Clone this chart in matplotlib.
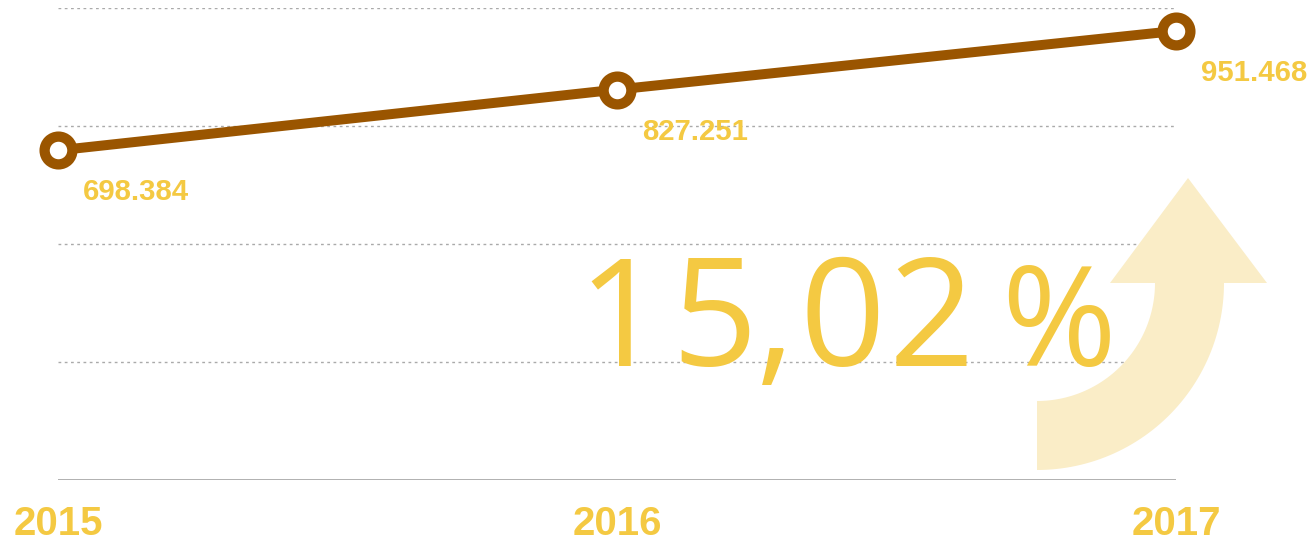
import matplotlib
matplotlib.use("Agg")
import matplotlib.pyplot as plt
from matplotlib.path import Path
from matplotlib.patches import PathPatch
import numpy as np

years = [2015, 2016, 2017]
values = [698.384, 827.251, 951.468]
value_labels = ["698.384", "827.251", "951.468"]
year_labels = ["2015", "2016", "2017"]
growth_label = "15,02 %"
grid_levels = [250, 500, 750, 1000]

YELLOW = "#F4C942"
BROWN = "#9A5500"
ARROW = "#FAEDC7"
GRID = "#AAAAAA"

W, H = 1309, 543
fig = plt.figure(figsize=(W / 100, H / 100), dpi=100)
fig.patch.set_facecolor("white")

# main axes in pixel placement
left, right, bottom_px, top_px = 58, 1176, 480, 8
ax = fig.add_axes([left / W, (H - bottom_px) / H, (right - left) / W, (bottom_px - top_px) / H])
ax.set_xlim(2015, 2017)
ax.set_ylim(0, 1000)
ax.patch.set_visible(False)
for s in ax.spines.values():
    s.set_visible(False)
ax.set_xticks([])
ax.set_yticks([])

for g in grid_levels:
    ax.axhline(g, color=GRID, lw=1.0, ls=(0, (2, 2.5)), zorder=1)
ax.axhline(0, color=GRID, lw=1.3, zorder=1)

ax.plot(years, values, color=BROWN, lw=7.2, zorder=3, solid_capstyle="butt", clip_on=False)
ax.plot(years, values, ls="none", marker="o", ms=20, mew=7.4, mec=BROWN, mfc="white",
        zorder=4, clip_on=False)

for x, v, lab in zip(years, values, value_labels):
    ax.annotate(lab, (x, v), xytext=(25, -42), textcoords="offset pixels",
                ha="left", va="center", fontsize=21.2, fontweight="bold",
                family="Liberation Sans", color=YELLOW, zorder=5, annotation_clip=False)

for x, lab in zip(years, year_labels):
    ax.annotate(lab, (x, 0), xytext=(0, -44), textcoords="offset pixels",
                ha="center", va="center", fontsize=29, fontweight="bold",
                family="Liberation Sans", color=YELLOW, annotation_clip=False)

# overlay in pixel coordinates for the decorative arrow and big figure
ov = fig.add_axes([0, 0, 1, 1], zorder=3)
ov.set_xlim(0, W)
ov.set_ylim(H, 0)
ov.axis("off")
ov.patch.set_visible(False)

cx, cy, R, r = 1037, 283, 187, 118
t = np.linspace(0, np.pi / 2, 60)
outer = np.column_stack([cx + R * np.sin(t), cy + R * np.cos(t)])
inner = np.column_stack([cx + r * np.sin(t[::-1]), cy + r * np.cos(t[::-1])])
head = np.array([[1267, 283], [1188, 178], [1110, 283]])
verts = np.vstack([outer, head, inner, outer[:1]])
codes = [Path.MOVETO] + [Path.LINETO] * (len(verts) - 2) + [Path.CLOSEPOLY]
ov.add_patch(PathPatch(Path(verts, codes), facecolor=ARROW, edgecolor="none", zorder=1))

# big growth figure, glyphs placed individually to match the original's spacing
glyphs = [c for c in growth_label if c != " "]
glyph_centers = [620, 714, 775, 842, 932, 1059]
glyph_sizes = [108, 108, 108, 108, 108, 100]
for ch, gx, fs in zip(glyphs, glyph_centers, glyph_sizes):
    ov.text(gx, 366, ch, ha="center", va="baseline", fontsize=fs,
            family="Open Sans", fontweight=500, color=YELLOW, zorder=2)

fig.savefig("out.png", dpi=100, facecolor="white")
